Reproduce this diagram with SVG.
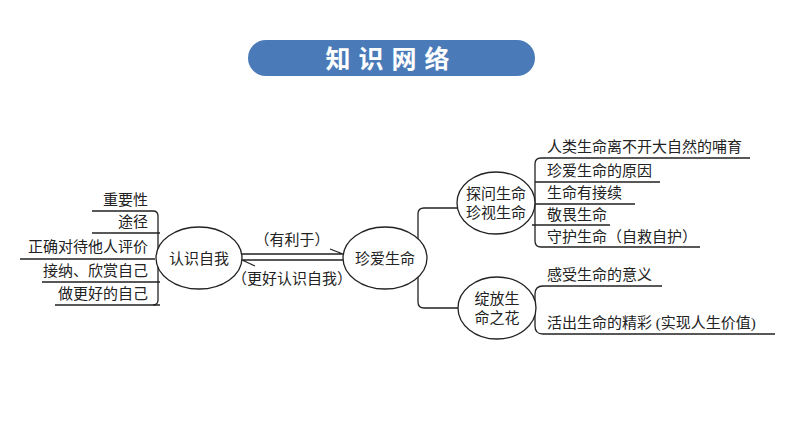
<svg xmlns="http://www.w3.org/2000/svg" width="794" height="446" viewBox="0 0 794 446">
<style>
text{font-family:"Liberation Serif","Noto Sans CJK SC",serif;font-size:15px;fill:#222}
.r{text-anchor:end}
.m{text-anchor:middle}
.l{stroke:#222;stroke-width:1.3;fill:none}
ellipse{fill:#fff;stroke:#222;stroke-width:1.3}
</style>
<rect width="794" height="446" fill="#fff"/>
<g id="title">
<rect x="248" y="40" width="287" height="36" rx="18" fill="#4a7ab8"/>
<text x="391.5" y="68" class="m" style="font-family:'Noto Sans CJK SC',sans-serif;font-weight:bold;font-size:25px;fill:#fff;letter-spacing:8px">知识网络</text>
</g>
<g id="connectors">
<path class="l" d="M153,211 H92 M160,233 H92 M155,259 H20 M160,282 H42 M160,305 H55"/>
<path class="l" d="M153,211 Q158,211 158,216 V300 Q158,305 153,305"/>
<path class="l" d="M242,254 H343 L330,249 M242,260 H343 M242,260 L255,266"/>
<path class="l" d="M427,258 H418 M457,208 H424 Q418,208 418,214 V302 Q418,308 424,308 H459"/>
<path class="l" d="M750,158 H541 Q535,158 535,164 V241 Q535,247 541,247 H700 M660,182 H535 M635,204 H532 M610,225 H532"/>
<path class="l" d="M662,286 H543 Q535,286 535,294 V326 Q535,334 543,334 H775"/>
</g>
<g id="left-items">
<text x="148" y="205" class="r">重要性</text>
<text x="148" y="227" class="r">途径</text>
<text x="148" y="252" class="r">正确对待他人评价</text>
<text x="148" y="276" class="r">接纳、欣赏自己</text>
<text x="148" y="299" class="r">做更好的自己</text>
</g>
<g id="n1"><ellipse cx="199" cy="258" rx="43" ry="31"/><text x="199" y="264" class="m">认识自我</text></g>
<g id="n2"><ellipse cx="385" cy="258" rx="42" ry="31"/><text x="385" y="264" class="m">珍爱生命</text></g>
<g id="labels">
<text x="292" y="245" class="m">（有利于）</text>
<text x="292" y="284" class="m">（更好认识自我）</text>
</g>
<g id="n3"><ellipse cx="496" cy="203" rx="39" ry="31"/><text x="496" y="199" class="m">探问生命</text><text x="496" y="218" class="m">珍视生命</text></g>
<g id="n4"><ellipse cx="497" cy="308" rx="39" ry="31"/><text x="497" y="304" class="m">绽放生</text><text x="497" y="323" class="m">命之花</text></g>
<g id="right-items">
<text x="547" y="152">人类生命离不开大自然的哺育</text>
<text x="547" y="176">珍爱生命的原因</text>
<text x="547" y="198">生命有接续</text>
<text x="547" y="220">敬畏生命</text>
<text x="547" y="242">守护生命（自救自护）</text>
<text x="547" y="280">感受生命的意义</text>
<text x="547" y="328">活出生命的精彩 (实现人生价值)</text>
</g>
</svg>
